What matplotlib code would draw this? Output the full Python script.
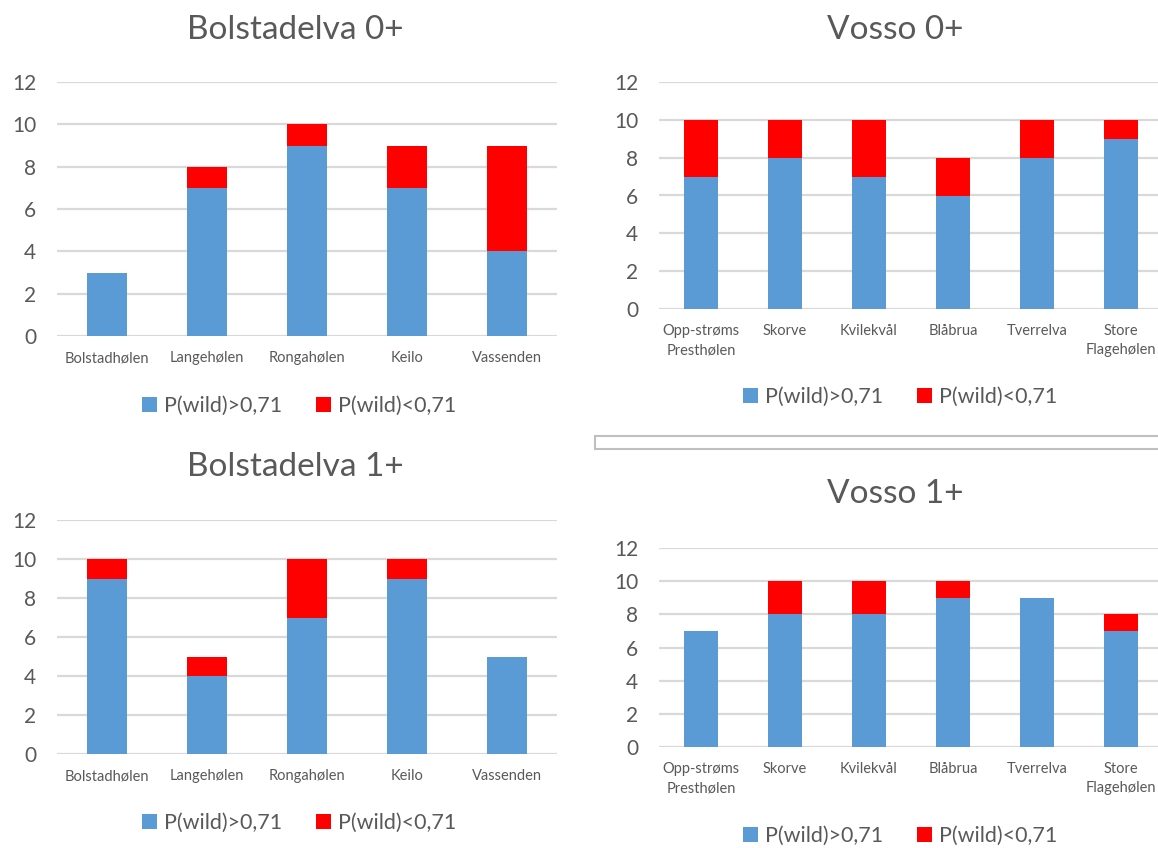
import matplotlib.pyplot as plt
from matplotlib.patches import Rectangle

plt.rcParams['font.family'] = ['Lato', 'DejaVu Sans']

bol_sites = ['Bolstadhølen', 'Langehølen', 'Rongahølen', 'Keilo', 'Vassenden']
bol0_high = [3, 7, 9, 7, 4]
bol0_low = [0, 1, 1, 2, 5]
bol1_high = [9, 4, 7, 9, 5]
bol1_low = [1, 1, 3, 1, 0]

vosso_sites = ['Opp-strøms\nPresthølen', 'Skorve', 'Kvilekvål', 'Blåbrua',
               'Tverrelva', 'Store\nFlagehølen']
vos0_high = [7, 8, 7, 6, 8, 9]
vos0_low = [3, 2, 3, 2, 2, 1]
vos1_high = [7, 8, 8, 9, 9, 7]
vos1_low = [0, 2, 2, 1, 0, 1]

BLUE = '#5B9BD5'
RED = '#FF0000'
GREY = '#595959'
GRID = '#D9D9D9'

W, H = 1158, 848
fig = plt.figure(figsize=(W / 100, H / 100), dpi=100)


def px_axes(x0, x1, y_top, y_bot):
    return fig.add_axes([x0 / W, 1 - y_bot / H, (x1 - x0) / W, (y_bot - y_top) / H])


def panel(box, title, title_xy, sites, high, low, legend_xy):
    ax = px_axes(*box)
    x = range(len(sites))
    ax.bar(x, high, width=0.4, color=BLUE, linewidth=0, zorder=2,
           label='P(wild)>0,71')
    ax.bar(x, low, width=0.4, bottom=high, color=RED, linewidth=0, zorder=2,
           label='P(wild)<0,71')
    ax.set_xlim(-0.5, len(sites) - 0.5)
    ax.set_ylim(0, 12)
    ax.set_yticks(range(0, 13, 2))
    ax.set_xticks(list(x))
    ax.set_xticklabels(sites, fontsize=10.5, color=GREY, linespacing=1.45)
    ax.tick_params(axis='y', length=0, pad=15, labelsize=15, labelcolor=GREY)
    ax.tick_params(axis='x', length=0, pad=11)
    ax.yaxis.grid(True, color=GRID, linewidth=1.6, zorder=0)
    ax.set_axisbelow(True)
    for s in ax.spines.values():
        s.set_visible(False)
    fig.text(title_xy[0] / W, 1 - title_xy[1] / H, title, fontsize=24,
             color=GREY, ha='center', va='center')
    ax.legend(loc='center', bbox_to_anchor=(legend_xy[0] / W, 1 - legend_xy[1] / H),
              bbox_transform=fig.transFigure, ncol=2, frameon=False,
              fontsize=15.5, labelcolor=GREY, handlelength=0.7, handleheight=0.7,
              handletextpad=0.3, columnspacing=1.6)
    return ax


panel((57, 557, 82, 336), 'Bolstadelva 0+', (295, 30),
      bol_sites, bol0_high, bol0_low, (299, 406))
panel((659, 1163, 82, 309), 'Vosso 0+', (895, 30),
      vosso_sites, vos0_high, vos0_low, (900, 397))
panel((57, 557, 520, 754), 'Bolstadelva 1+', (295, 467),
      bol_sites, bol1_high, bol1_low, (299, 823))
panel((659, 1163, 548, 747), 'Vosso 1+', (895, 494),
      vosso_sites, vos1_high, vos1_low, (900, 836))

# thin empty frame between the two right-hand charts
fig.patches.append(Rectangle((595 / W, 1 - 449 / H), 600 / W, 13 / H,
                             transform=fig.transFigure, facecolor='white',
                             edgecolor='#BFBFBF', linewidth=1.5))

fig.savefig('out.png', dpi=100, facecolor='white')
